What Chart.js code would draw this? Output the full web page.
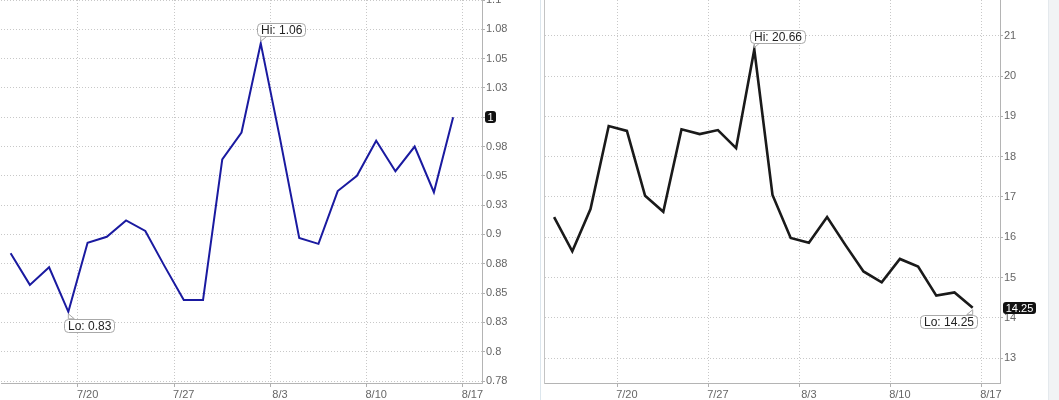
<!DOCTYPE html>
<html>
<head>
<meta charset="utf-8">
<script src="https://cdn.jsdelivr.net/npm/chart.js@4.4.0/dist/chart.umd.min.js"></script>
<style>
  body { margin: 0; background: #fff; }
  #wrap { position: relative; width: 1059px; height: 400px; overflow: hidden; background: #fff; }
  canvas { position: absolute; top: 0; }
  #leftChart { left: 1px; }
  #rightChart { left: 545px; }
</style>
</head>
<body>
<div id="wrap">
  <canvas id="leftChart" width="531" height="400"></canvas>
  <div style="position:absolute;left:540px;top:0;width:1px;height:400px;background:#dce6ed"></div>
  <div style="position:absolute;left:544px;top:0;width:1px;height:384px;background:#c4c4c4"></div>
  <canvas id="rightChart" width="503" height="400"></canvas>
  <div style="position:absolute;left:1048px;top:0;width:11px;height:400px;background:#f1f3f5;border-left:1px solid #e4e9ed"></div>
</div>
<script>
// trading days shown on the x axis (last one has no data yet)
const dates = ['7/14', '7/15', '7/16', '7/17', '7/20', '7/21', '7/22', '7/23', '7/24',
    '7/27', '7/28', '7/29', '7/30', '7/31', '8/3', '8/4', '8/5', '8/6', '8/7',
    '8/10', '8/11', '8/12', '8/13', '8/14', '8/17'];
const weekLabels = ['7/20', '7/27', '8/3', '8/10', '8/17'];

// left panel (blue)
const ratioValues = [0.884, 0.857, 0.872, 0.834, 0.893, 0.898, 0.912, 0.903, 0.873,
    0.844, 0.844, 0.964, 0.987, 1.063, 0.982, 0.897, 0.892, 0.937, 0.950,
    0.980, 0.954, 0.975, 0.936, 1.0];
const ratioTicks = [0.775, 0.8, 0.825, 0.85, 0.875, 0.9, 0.925, 0.95, 0.975, 1, 1.025, 1.05, 1.075, 1.1];
const ratioTickLabels = ['0.78', '0.8', '0.83', '0.85', '0.88', '0.9', '0.93', '0.95', '0.98', '1', '1.03', '1.05', '1.08', '1.1'];

// right panel (black)
const priceValues = [16.50, 15.65, 16.70, 18.76, 18.64, 17.03, 16.63, 18.68, 18.56,
    18.66, 18.21, 20.66, 17.05, 15.98, 15.86, 16.50, 15.81, 15.15, 14.88,
    15.46, 15.27, 14.55, 14.63, 14.25];
const priceTicks = [13, 14, 15, 16, 17, 18, 19, 20, 21, 22];
const priceTickLabels = ['13', '14', '15', '16', '17', '18', '19', '20', '21', '22'];

const FONT = '"Liberation Sans", Arial, sans-serif';
const fmt = v => String(parseFloat(v.toFixed(2)));

function callout(ctx, pt, text, above, area) {
    const w = ctx.measureText(text).width + 7, h = 13;
    const flip = pt.x + w > area.right - 4;
    const bx = flip ? pt.x + 4 - w : pt.x - 4;
    const by = above ? pt.y - 7 - h : pt.y + 7;
    const ex = flip ? bx + w - 7 : bx + 7;
    const ey = above ? by + h : by;

    ctx.fillStyle = '#fff';
    ctx.strokeStyle = '#a8a8a8';
    ctx.lineWidth = 1;
    ctx.beginPath();
    ctx.moveTo(ex - 3, ey);
    ctx.lineTo(pt.x, pt.y + (above ? -2 : 2));
    ctx.lineTo(ex + 3, ey);
    ctx.closePath();
    ctx.fill();
    ctx.stroke();

    ctx.beginPath();
    ctx.roundRect(Math.round(bx) + 0.5, Math.round(by) + 0.5, Math.round(w), h, 4);
    ctx.fill();
    ctx.stroke();

    ctx.fillStyle = '#222';
    ctx.textAlign = 'center';
    ctx.textBaseline = 'middle';
    ctx.fillText(text, Math.round(bx) + w / 2 + 0.5, Math.round(by) + h / 2 + 1);
}

const hiLoPlugin = {
    id: 'hiLo',
    afterDatasetsDraw(chart) {
        const ctx = chart.ctx;
        const area = chart.chartArea;
        const meta = chart.getDatasetMeta(0);
        const values = chart.data.datasets[0].data;
        let hi = 0, lo = 0;
        values.forEach((v, i) => {
            if (v > values[hi]) hi = i;
            if (v < values[lo]) lo = i;
        });
        ctx.save();
        ctx.font = '12px ' + FONT;
        callout(ctx, meta.data[hi], 'Hi: ' + fmt(values[hi]), true, area);
        callout(ctx, meta.data[lo], 'Lo: ' + fmt(values[lo]), false, area);

        // last value badge on the axis
        const last = values[values.length - 1];
        const yPix = chart.scales.y.getPixelForValue(last);
        const label = fmt(last);
        ctx.font = '11px ' + FONT;
        const bw = Math.round(ctx.measureText(label).width + 5), bh = 12;
        const bx = area.right + 3, by = Math.round(yPix - bh / 2);
        ctx.fillStyle = '#111';
        ctx.beginPath();
        ctx.roundRect(bx, by, bw, bh, 3);
        ctx.fill();
        ctx.fillStyle = '#fff';
        ctx.textAlign = 'center';
        ctx.textBaseline = 'middle';
        ctx.fillText(label, bx + bw / 2, by + bh / 2 + 1);
        ctx.restore();
    }
};

function createPanel(id, values, color, width, yMin, yMax, tickValues, tickLabels, yWidth) {
    const ctx = document.getElementById(id).getContext('2d');
    return new Chart(ctx, {
        type: 'line',
        data: {
            labels: dates,
            datasets: [{
                data: values,
                borderColor: color,
                borderWidth: width,
                pointRadius: 0,
                tension: 0,
                fill: false
            }]
        },
        options: {
            responsive: false,
            animation: false,
            layout: { padding: 0 },
            plugins: { legend: { display: false }, tooltip: { enabled: false } },
            scales: {
                x: {
                    type: 'category',
                    offset: true,
                    grid: {
                        offset: true,
                        color: c => (c.tick && weekLabels.includes(dates[c.index])) ? '#c8c8c8' : 'rgba(0,0,0,0)',
                        tickColor: c => (c.tick && weekLabels.includes(dates[c.index])) ? '#b0b0b0' : 'rgba(0,0,0,0)',
                        tickLength: 4
                    },
                    border: { display: true, color: '#b4b4b4', dash: [1, 2] },
                    ticks: {
                        autoSkip: false,
                        maxRotation: 0,
                        padding: 1,
                        color: '#666',
                        font: { family: FONT, size: 11 },
                        callback: (val, i) => weekLabels.includes(dates[i]) ? dates[i] : ''
                    },
                    afterFit: s => { s.height = 17; s.paddingLeft = 0; s.paddingRight = 0; }
                },
                y: {
                    position: 'right',
                    min: yMin,
                    max: yMax,
                    grid: { color: '#c8c8c8', tickColor: '#b0b0b0', tickLength: 3 },
                    border: { display: true, color: '#b4b4b4', dash: [1, 2] },
                    ticks: {
                        padding: 1,
                        color: '#666',
                        font: { family: FONT, size: 11 },
                        callback: (val, i) => tickLabels[i]
                    },
                    afterBuildTicks: s => { s.ticks = tickValues.map(v => ({ value: v })); },
                    afterFit: s => { s.width = yWidth; s.paddingTop = 0; s.paddingBottom = 0; }
                }
            }
        },
        plugins: [hiLoPlugin]
    });
}

createPanel('leftChart', ratioValues, '#1a1aa0', 2, 0.7733, 1.1, ratioTicks, ratioTickLabels, 50);
createPanel('rightChart', priceValues, '#1a1a1a', 2.6, 12.38, 21.89, priceTicks, priceTickLabels, 48);
</script>
</body>
</html>
